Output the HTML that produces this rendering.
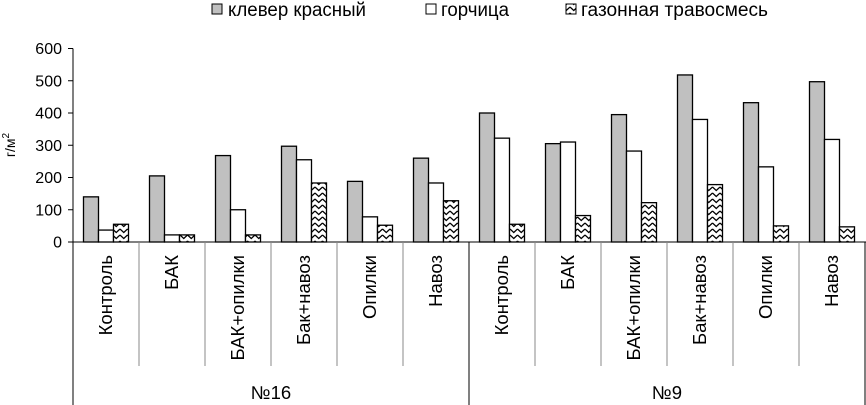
<!DOCTYPE html>
<html><head><meta charset="utf-8"><style>
html,body{margin:0;padding:0;background:#fff;}
svg{display:block;font-family:"Liberation Sans",Arial,sans-serif;}
</style></head><body>
<svg id="chart" width="866" height="405" viewBox="0 0 866 405" xmlns="http://www.w3.org/2000/svg">
<defs>
<pattern id="zig" patternUnits="userSpaceOnUse" width="7.5" height="6">
<rect width="7.5" height="6" fill="#fff"/>
<path d="M0,1 L3.75,4.5 L7.5,1" fill="none" stroke="#000" stroke-width="1.2"/>
</pattern>
</defs>
<g id="legend">
<g><rect x="212" y="4" width="10" height="10" fill="#c0c0c0" stroke="#000"/><text x="228" y="16" font-size="19" textLength="138" lengthAdjust="spacingAndGlyphs">клевер красный</text></g>
<g><rect x="426" y="4" width="10" height="10" fill="#fff" stroke="#000"/><text x="441" y="16" font-size="19" textLength="68" lengthAdjust="spacingAndGlyphs">горчица</text></g>
<g><rect x="566" y="4" width="10" height="10" fill="url(#zig)" stroke="#000"/><text x="581" y="16" font-size="19" textLength="187" lengthAdjust="spacingAndGlyphs">газонная травосмесь</text></g>
</g>
<text transform="translate(15,145) rotate(-90)" text-anchor="middle" font-size="14">г/м<tspan dy="-6" font-size="10">2</tspan></text>
<g id="axes"></g>
<g id="bars"></g>
<g id="xlabels"></g>
</svg>
<script>
const categories = ["Контроль","БАК","БАК+опилки","Бак+навоз","Опилки","Навоз","Контроль","БАК","БАК+опилки","Бак+навоз","Опилки","Навоз"];
const groups = ["№16","№9"];
const klever = [140,205,268,297,188,260,400,305,395,518,432,497];
const gorchitsa = [37,22,100,255,78,183,322,310,282,380,233,318];
const travosmes = [55,22,22,183,52,128,55,82,122,178,50,47];
const yTicks = [0,100,200,300,400,500,600];

const NS="http://www.w3.org/2000/svg";
const x0=73, catW=66, y0=242, yTop=48.5, yMax=600;
const yScale=v=>y0-(v/yMax)*(y0-yTop);
const xCat=i=>x0+i*catW;
function mk(tag,attrs,parent){const e=document.createElementNS(NS,tag);for(const k in attrs)e.setAttribute(k,attrs[k]);parent.appendChild(e);return e;}
const axes=document.getElementById('axes'),bars=document.getElementById('bars'),xl=document.getElementById('xlabels');
const ya=mk('line',{x1:x0,y1:yTop,x2:x0,y2:405,stroke:'#000','stroke-width':1},axes);


yTicks.forEach(t=>{
 const y=yScale(t);
 const tl=mk('line',{x1:x0-5,y1:y,x2:x0,y2:y,stroke:'#000'},axes);
 
 
 const tx=mk('text',{x:62,y:y+5.5,'text-anchor':'end','font-size':16},axes);
 tx.textContent=t;
 
 
});
const xa=mk('line',{x1:x0,y1:y0,x2:866,y2:y0,stroke:'#000'},axes);


for(let i=1;i<=categories.length;i++){
 const x=xCat(i);
 const big=(i%6===0);
 const dl=mk('line',{x1:x,y1:y0,x2:x,y2:big?405:366,stroke:big?'#000':'#888','stroke-width':1},axes);
 
 
}
categories.forEach((c,i)=>{
 const cx=xCat(i)+catW/2+6;
 const t=mk('text',{transform:`translate(${cx},255) rotate(-90)`,'text-anchor':'end','font-size':18.5},xl);
 t.textContent=c;
 
 
});
groups.forEach((g,i)=>{
 const t=mk('text',{x:x0+(i+0.5)*6*catW,y:399,'text-anchor':'middle','font-size':18.5},xl);
 t.textContent=g;
 
 
});
const series=[{d:klever,fill:'#c0c0c0',n:'klever'},{d:gorchitsa,fill:'#fff',n:'gorchitsa'},{d:travosmes,fill:'url(#zig)',n:'travosmes'}];
series.forEach((s,si)=>{
 s.d.forEach((v,i)=>{
  const x=xCat(i)+10.5+si*15;
  const y=yScale(v);
  const r=mk('rect',{x:x,y:y,width:15,height:y0-y,fill:s.fill,stroke:'#000','stroke-width':1.3},bars);
  
  
 });
});
</script>
</body></html>
